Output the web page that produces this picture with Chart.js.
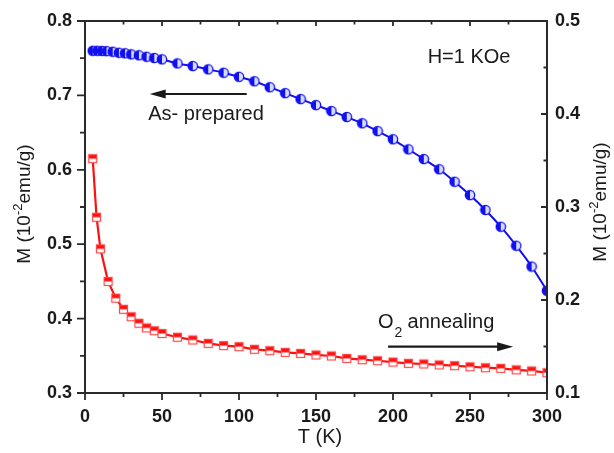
<!DOCTYPE html>
<html>
<head>
<meta charset="utf-8">
<script src="https://cdn.jsdelivr.net/npm/chart.js@4/dist/chart.umd.min.js"></script>
<style>
  html, body { margin: 0; padding: 0; background: #fff; }
  #wrap { width: 614px; height: 453px; }
</style>
</head>
<body>
<div id="wrap"><canvas id="chart" width="614" height="453"></canvas></div>
<script>
// M(T) curves
// As-prepared sample, left axis
const tempAsPrepared = [5, 8, 11, 14, 18, 22, 26, 30, 35, 40, 45, 50,
  60, 70, 80, 90, 100, 110, 120, 130, 140, 150, 160, 170, 180, 190,
  200, 210, 220, 230, 240, 250, 260, 270, 280, 290, 300];
const mAsPrepared = [0.760, 0.760, 0.7598, 0.7595, 0.7587, 0.7574, 0.7566, 0.7552, 0.7539, 0.752, 0.7503, 0.7485,
  0.743, 0.7395, 0.735, 0.7305, 0.725, 0.719, 0.711, 0.703, 0.695, 0.687, 0.679, 0.671, 0.6625, 0.652,
  0.641, 0.6275, 0.6145, 0.6007, 0.584, 0.566, 0.546, 0.5235, 0.498, 0.470, 0.4375];

// O2 annealed sample, right axis
const tempAnnealed = [5, 7.5, 10, 15, 20, 25, 30, 35, 40, 45, 50,
  60, 70, 80, 90, 100, 110, 120, 130, 140, 150, 160, 170, 180, 190,
  200, 210, 220, 230, 240, 250, 260, 270, 280, 290, 300];
const mAnnealed = [0.352, 0.289, 0.255, 0.220, 0.202, 0.190, 0.182, 0.175, 0.170, 0.167, 0.164,
  0.160, 0.157, 0.1534, 0.151, 0.1498, 0.147, 0.1455, 0.1437, 0.1426, 0.1409, 0.1398, 0.1372, 0.1358, 0.1347,
  0.1333, 0.1319, 0.1312, 0.1302, 0.1294, 0.1282, 0.1272, 0.1265, 0.1249, 0.1237, 0.1218];

const xTicks = [0, 50, 100, 150, 200, 250, 300];
const leftTicks = [0.3, 0.4, 0.5, 0.6, 0.7, 0.8];
const rightTicks = [0.1, 0.2, 0.3, 0.4, 0.5];

const BLUE = '#1010f0';
const RED = '#ff1010';
const INK = '#1a1a1a';

// half filled circle marker
function circleMarker() {
  const c = document.createElement('canvas');
  c.width = 12; c.height = 12;
  const g = c.getContext('2d');
  g.beginPath(); g.arc(6, 6, 4.7, 0, Math.PI * 2);
  g.fillStyle = '#d8dcff'; g.fill();
  g.beginPath(); g.arc(6, 6, 4.7, Math.PI / 2, Math.PI * 1.5);
  g.closePath(); g.fillStyle = BLUE; g.fill();
  g.beginPath(); g.arc(6, 6, 4.7, 0, Math.PI * 2);
  g.lineWidth = 1.3; g.strokeStyle = BLUE; g.stroke();
  return c;
}

// half filled square marker
function squareMarker() {
  const c = document.createElement('canvas');
  c.width = 11; c.height = 11;
  const g = c.getContext('2d');
  g.fillStyle = '#fff'; g.fillRect(1, 1, 9, 9);
  g.fillStyle = RED; g.fillRect(1, 1, 9, 4.5);
  g.lineWidth = 1.2; g.strokeStyle = '#ff4848';
  g.strokeRect(1.5, 1.5, 8, 8);
  return c;
}

function arrow(ctx, x1, y1, x2, y2) {
  const dir = Math.sign(x2 - x1);
  ctx.beginPath();
  ctx.moveTo(x1, y1); ctx.lineTo(x2 - dir * 12, y2);
  ctx.lineWidth = 2.2; ctx.strokeStyle = INK; ctx.stroke();
  ctx.beginPath();
  ctx.moveTo(x2, y2);
  ctx.lineTo(x2 - dir * 16, y2 - 4.5);
  ctx.lineTo(x2 - dir * 16, y2 + 4.5);
  ctx.closePath(); ctx.fillStyle = INK; ctx.fill();
}

// frame, inward/outward ticks, titles and notes
const decor = {
  id: 'decor',
  afterDraw(chart) {
    const { ctx, chartArea: a } = chart;
    const sx = chart.scales.x, sy = chart.scales.y, sr = chart.scales.y1;
    ctx.save();
    ctx.strokeStyle = '#2a2a2a';
    ctx.lineWidth = 2;
    ctx.strokeRect(a.left, a.top, a.right - a.left, a.bottom - a.top);
    ctx.lineWidth = 1.8;
    ctx.beginPath();
    for (let t = 0; t <= 300; t += 25) {
      const px = sx.getPixelForValue(t);
      const major = t % 50 === 0;
      ctx.moveTo(px, a.bottom); ctx.lineTo(px, a.bottom + (major ? 7 : 4));
      ctx.moveTo(px, a.top); ctx.lineTo(px, a.top + (major ? 5 : 3.5));
    }
    for (let i = 0; i <= 10; i++) {
      const v = 0.3 + i * 0.05;
      const py = sy.getPixelForValue(v);
      ctx.moveTo(a.left, py); ctx.lineTo(a.left - (i % 2 === 0 ? 8 : 5), py);
    }
    for (let i = 0; i <= 8; i++) {
      const v = 0.1 + i * 0.05;
      const py = sr.getPixelForValue(v);
      ctx.moveTo(a.right, py); ctx.lineTo(a.right - (i % 2 === 0 ? 6 : 3.5), py);
    }
    ctx.stroke();

    ctx.fillStyle = INK;
    ctx.textBaseline = 'middle';
    // x title
    ctx.font = '20px Arial, "Liberation Sans"';
    ctx.textAlign = 'center';
    ctx.fillText('T (K)', (a.left + a.right) / 2 + 4, 437);

    // y titles with superscript
    const yTitle = (cx, cy) => {
      ctx.save();
      ctx.translate(cx, cy);
      ctx.rotate(-Math.PI / 2);
      ctx.textAlign = 'left';
      const big = '19px Arial, "Liberation Sans"', small = '13px Arial, "Liberation Sans"';
      ctx.font = big; const w1 = ctx.measureText('M (10').width;
      ctx.font = small; const w2 = ctx.measureText('-2').width;
      ctx.font = big; const w3 = ctx.measureText('emu/g)').width;
      let x = -(w1 + w2 + w3) / 2;
      ctx.fillText('M (10', x, 0); x += w1;
      ctx.font = small; ctx.fillText('-2', x, -7); x += w2;
      ctx.font = big; ctx.fillText('emu/g)', x, 0);
      ctx.restore();
    };
    yTitle(25, 204);
    yTitle(601, 202);

    // notes
    ctx.font = '20px Arial, "Liberation Sans"';
    ctx.textAlign = 'center';
    ctx.fillText('As- prepared', sx.getPixelForValue(78.6), sy.getPixelForValue(0.6737));
    ctx.textAlign = 'left';
    ctx.fillText('H=1 KOe', sx.getPixelForValue(222.5), sy.getPixelForValue(0.7503));
    const ox = sx.getPixelForValue(190.3), oy = sr.getPixelForValue(0.1763);
    ctx.fillText('O', ox, oy);
    const wO = ctx.measureText('O').width;
    ctx.font = '14px Arial, "Liberation Sans"';
    ctx.fillText('2', ox + wO + 1, oy + 11);
    ctx.font = '20px Arial, "Liberation Sans"';
    ctx.fillText('annealing', ox + wO + 14, oy);

    arrow(ctx, sx.getPixelForValue(105), sy.getPixelForValue(0.7019),
      sx.getPixelForValue(42), sy.getPixelForValue(0.7019));
    arrow(ctx, sx.getPixelForValue(196.8), sr.getPixelForValue(0.1498),
      sx.getPixelForValue(278), sr.getPixelForValue(0.1498));
    ctx.restore();
  }
};

const tickFont = { family: 'Arial, "Liberation Sans"', size: 18, weight: 'bold' };

new Chart(document.getElementById('chart'), {
  type: 'line',
  data: {
    datasets: [
      {
        label: 'As-prepared',
        data: tempAsPrepared.map((t, i) => ({ x: t, y: mAsPrepared[i] })),
        yAxisID: 'y',
        borderColor: BLUE,
        borderWidth: 2,
        tension: 0.3,
        pointStyle: circleMarker(),
        pointRadius: 5
      },
      {
        label: 'O2 annealing',
        data: tempAnnealed.map((t, i) => ({ x: t, y: mAnnealed[i] })),
        yAxisID: 'y1',
        borderColor: RED,
        borderWidth: 2.2,
        tension: 0,
        pointStyle: squareMarker(),
        pointRadius: 5
      }
    ]
  },
  options: {
    responsive: false,
    animation: false,
    layout: { padding: { top: 21, left: 0, right: 0, bottom: 0 } },
    plugins: { legend: { display: false }, tooltip: { enabled: false } },
    scales: {
      x: {
        type: 'linear', min: 0, max: 300,
        afterBuildTicks: s => { s.ticks = xTicks.map(v => ({ value: v })); },
        afterFit: s => { s.height = 60; },
        grid: { display: false }, border: { display: false },
        ticks: { font: tickFont, color: INK, padding: 5, maxRotation: 0 }
      },
      y: {
        type: 'linear', position: 'left', min: 0.3, max: 0.8,
        afterBuildTicks: s => { s.ticks = leftTicks.map(v => ({ value: v })); },
        afterFit: s => { s.width = 85; },
        grid: { display: false }, border: { display: false },
        ticks: { font: tickFont, color: INK, padding: 5, callback: v => v.toFixed(1) }
      },
      y1: {
        type: 'linear', position: 'right', min: 0.1, max: 0.5,
        afterBuildTicks: s => { s.ticks = rightTicks.map(v => ({ value: v })); },
        afterFit: s => { s.width = 67; },
        grid: { display: false }, border: { display: false },
        ticks: { font: tickFont, color: INK, padding: 0, callback: v => v.toFixed(1) }
      }
    }
  },
  plugins: [decor]
});
</script>
</body>
</html>
